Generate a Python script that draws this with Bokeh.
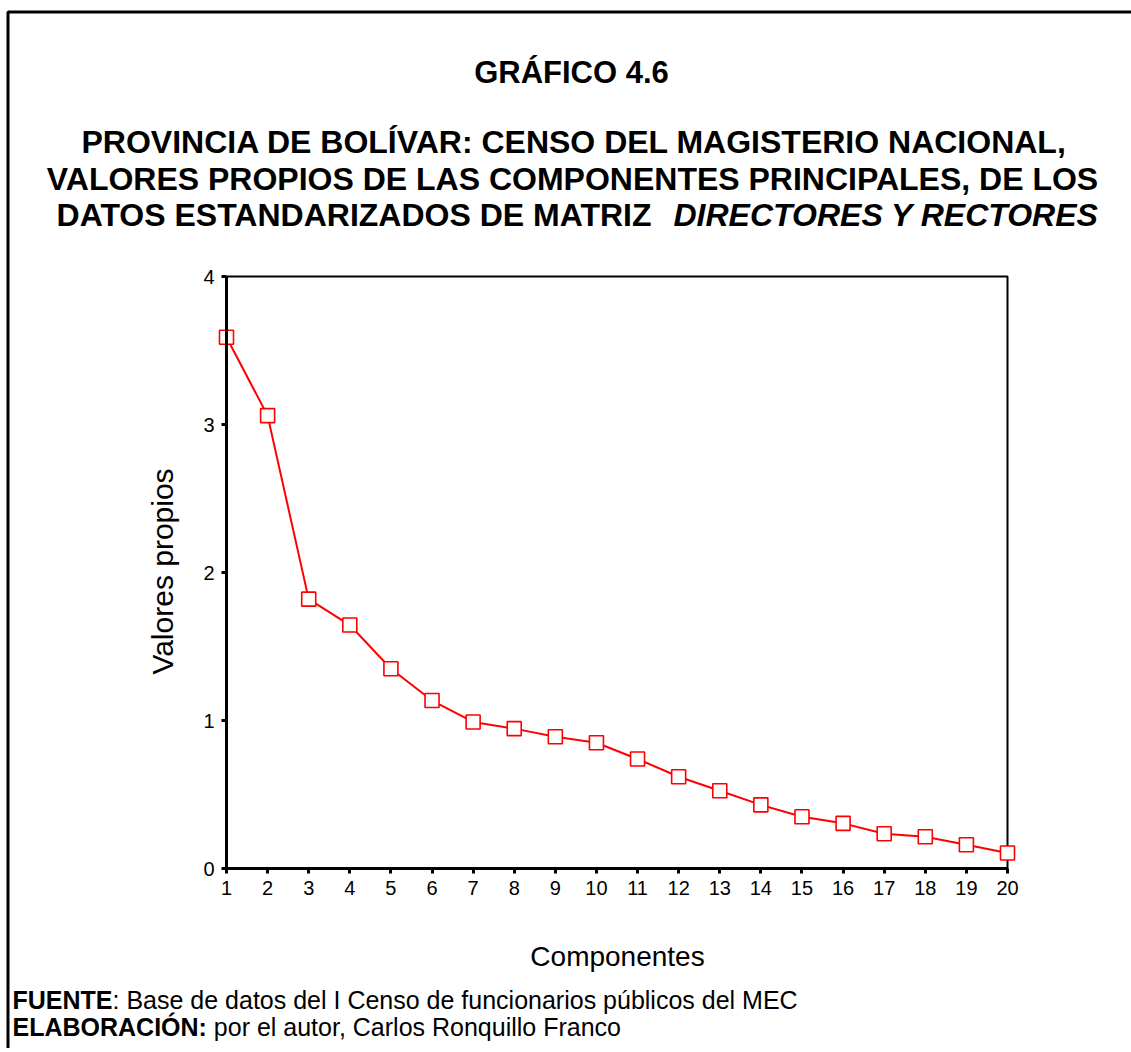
from bokeh.plotting import figure
from bokeh.models import Range1d, FixedTicker, Label
from bokeh.embed import file_html
from bokeh.resources import INLINE

# ---- data ----
components = list(range(1, 21))
eigenvalues = [3.59, 3.06, 1.82, 1.645, 1.35, 1.135, 0.99, 0.945, 0.89, 0.85,
               0.74, 0.62, 0.525, 0.43, 0.35, 0.305, 0.235, 0.215, 0.16, 0.105]
x_ticks = list(range(1, 21))
y_ticks = [0, 1, 2, 3, 4]

chart_number = "GRÁFICO 4.6"
title_lines = ["PROVINCIA DE BOLÍVAR: CENSO DEL MAGISTERIO NACIONAL,",
               "VALORES PROPIOS DE LAS COMPONENTES PRINCIPALES, DE LOS"]
title_line3_bold = "DATOS ESTANDARIZADOS DE MATRIZ"
title_line3_italic = "DIRECTORES Y RECTORES"
x_label = "Componentes"
y_label = "Valores propios"
src_bold = "FUENTE"
src_text = ": Base de datos del I Censo de funcionarios públicos del MEC"
elab_bold = "ELABORACIÓN:"
elab_text = "por el autor, Carlos Ronquillo Franco"

FONT = "Liberation Sans"

# ---- geometry: frame covers the whole canvas ----
W, H = 1131, 1048
AX_LEFT_PX, AX_RIGHT_PX = 226, 1007      # where x=1 and x=20 sit
AX_TOP_PX, AX_BOTTOM_PX = 276, 868       # where y=4 and y=0 sit
kx = (AX_RIGHT_PX - AX_LEFT_PX) / (x_ticks[-1] - x_ticks[0])
ky = (AX_BOTTOM_PX - AX_TOP_PX) / (y_ticks[-1] - y_ticks[0])
XR = (x_ticks[0] - AX_LEFT_PX / kx, x_ticks[0] + (W - AX_LEFT_PX) / kx)
YR = (y_ticks[0] - (H - AX_BOTTOM_PX) / ky, y_ticks[0] + AX_BOTTOM_PX / ky)

def X(px):
    return x_ticks[0] + (px - AX_LEFT_PX) / kx
def Y(py):
    return y_ticks[0] + (AX_BOTTOM_PX - py) / ky

p = figure(width=W, height=H, x_range=Range1d(*XR), y_range=Range1d(*YR),
           output_backend="svg", toolbar_location=None,
           min_border_left=0, min_border_right=0,
           min_border_top=0, min_border_bottom=0)
p.title.visible = False
p.grid.visible = False
p.outline_line_color = None
p.background_fill_color = "white"
p.border_fill_color = "white"

# outer page border (left & top edges visible)
p.line([X(7.5), X(7.5), X(W + 20)], [Y(H + 20), Y(11.5), Y(11.5)],
       line_color="black", line_width=3)

# plot box
p.quad(left=[x_ticks[0]], right=[x_ticks[-1]], bottom=[y_ticks[0]], top=[y_ticks[-1]],
       fill_color=None, line_color="black", line_width=2)

# series
p.line(components, eigenvalues, line_color="red", line_width=2)
p.scatter(components, eigenvalues, marker="square", size=14,
          line_color="red", fill_color="white", line_width=1.6)

# axes
for ax in (p.xaxis, p.yaxis):
    ax.axis_line_color = "black"
    ax.axis_line_width = 3
    ax.major_tick_line_color = "black"
    ax.major_tick_line_width = 3
    ax.major_tick_out = 5
    ax.major_tick_in = 0
    ax.minor_tick_line_color = None
    ax.major_label_text_font = FONT
    ax.major_label_text_font_size = "20px"
    ax.major_label_text_color = "black"
    ax.major_label_standoff = 7

p.xaxis.ticker = FixedTicker(ticks=x_ticks)
p.xaxis.bounds = (x_ticks[0], x_ticks[-1])
p.xaxis.fixed_location = y_ticks[0]

p.yaxis.ticker = FixedTicker(ticks=y_ticks)
p.yaxis.bounds = (y_ticks[0], y_ticks[-1])
p.yaxis.fixed_location = x_ticks[0]
p.yaxis.major_label_orientation = "horizontal"

def lab(px, py, text, size, style="bold", align="center", angle=0):
    p.add_layout(Label(x=X(px), y=Y(py), text=text, text_font=FONT,
                       text_font_size=size, text_font_style=style,
                       text_align=align, text_baseline="alphabetic",
                       text_color="black", angle=angle, angle_units="deg"))

lab(571, 72, chart_number, "31px")
lab(574, 141, title_lines[0], "32px")
lab(572, 178, title_lines[1], "32px")
lab(651, 214, title_line3_bold, "32px", align="right")
lab(673, 214, title_line3_italic, "32px", style="bold italic", align="left")

# axis titles
lab(617, 956, x_label, "28px", style="normal")
lab(162, 571, y_label, "30px", style="normal", angle=90)

FS = 25
X0 = 12
lab(X0, 999, src_bold, f"{FS}px", align="left")
lab(X0 + 4.000 * FS, 999, src_text, f"{FS}px", style="normal", align="left")
lab(X0, 1026, elab_bold, f"{FS}px", align="left")
lab(X0 + (7.775 + 0.278) * FS, 1026, elab_text, f"{FS}px", style="normal", align="left")

open("out.html", "w").write(file_html(p, INLINE))
